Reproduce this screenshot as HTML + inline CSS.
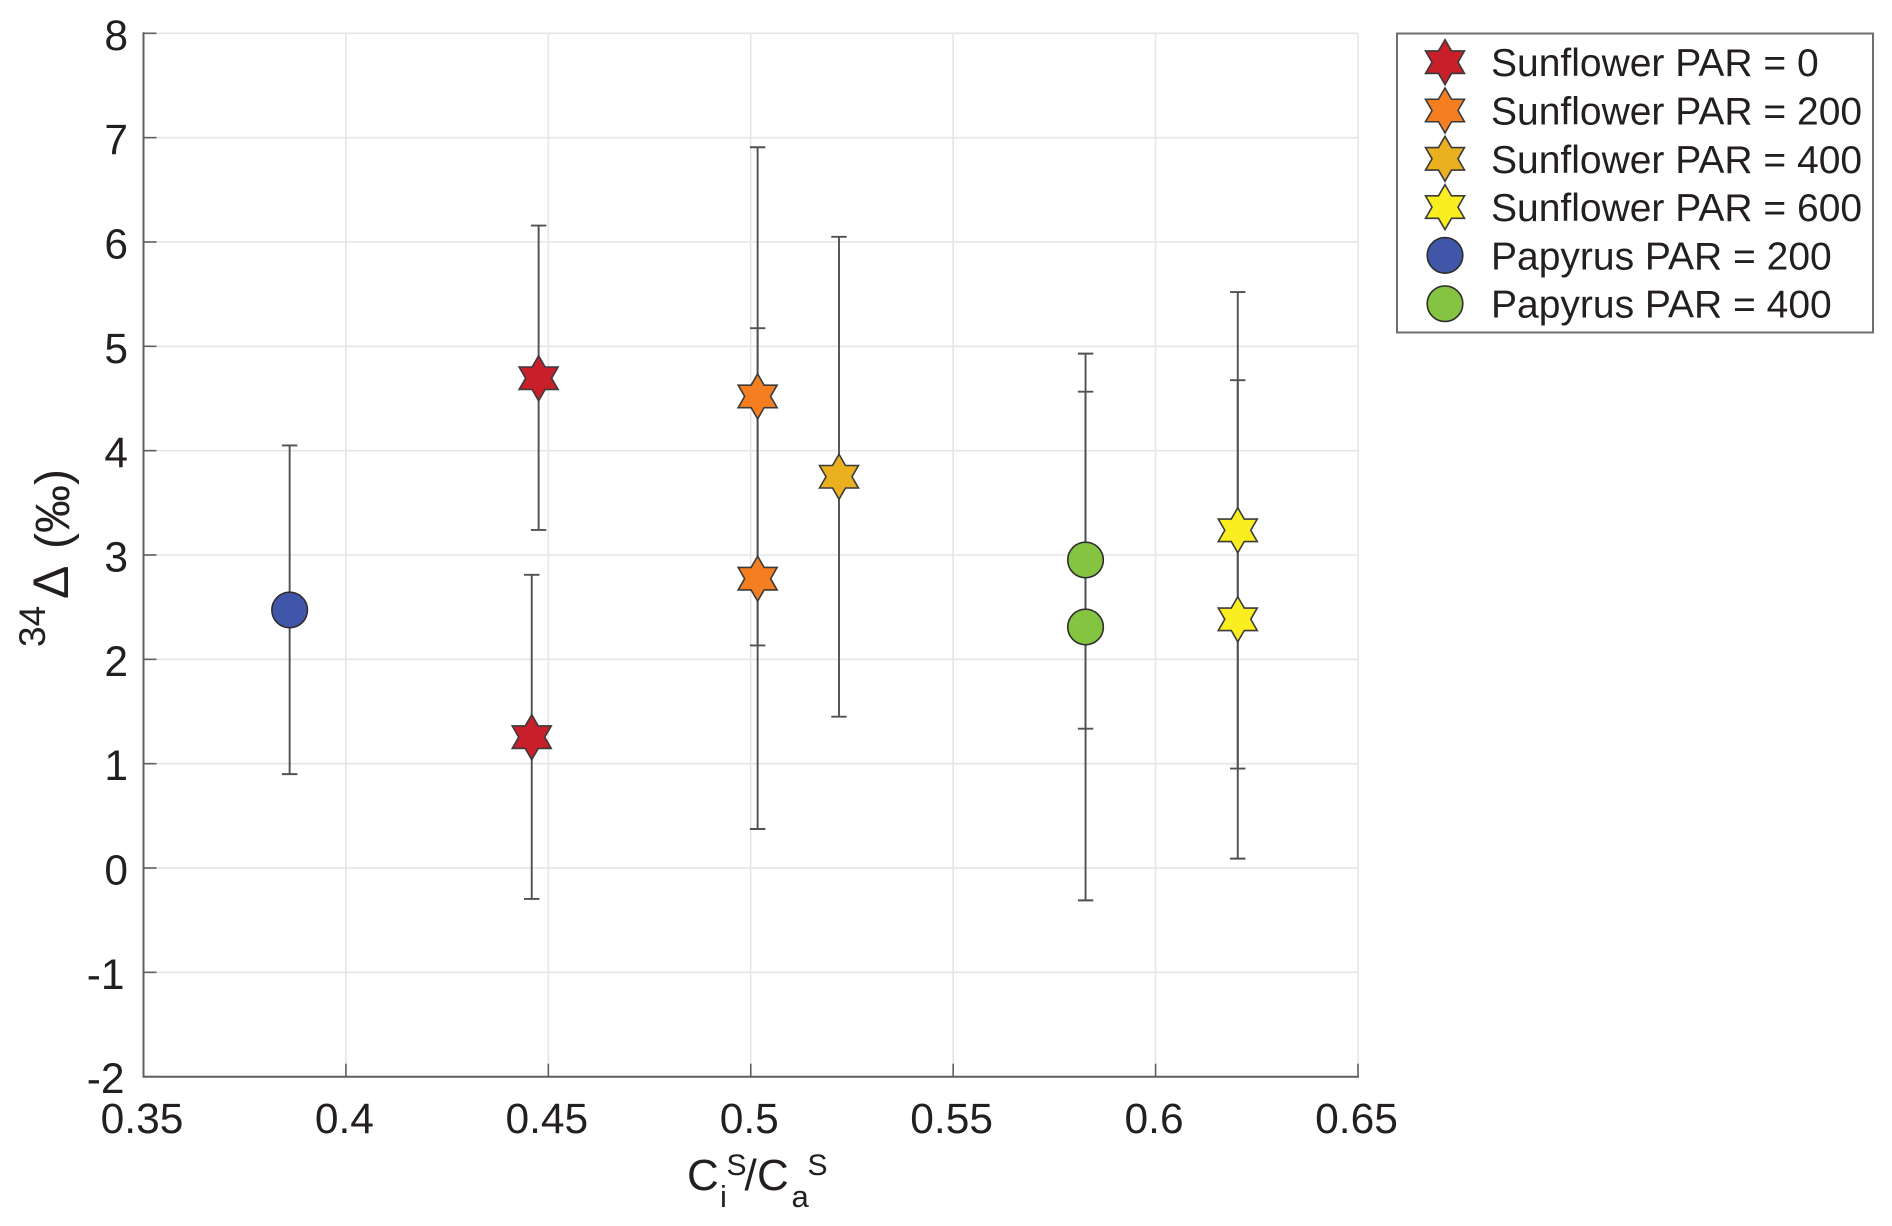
<!DOCTYPE html>
<html lang="en">
<head>
<meta charset="utf-8">
<title>34Δ vs Ci/Ca scatter chart</title>
<style>
  html, body { margin: 0; padding: 0; background: #fff; }
  svg { display: block; }
  text { font-family: "Liberation Sans", sans-serif; fill: #231f20; }
</style>
</head>
<body>
<svg id="chart" xmlns="http://www.w3.org/2000/svg" width="1892" height="1226" viewBox="0 0 1892 1226">
  <rect x="0" y="0" width="1892" height="1226" fill="#ffffff"/>
  <g id="grid"></g>
  <g id="axes"></g>
  <g id="errors"></g>
  <g id="marks"></g>

  <g>
    <text x="687" y="1190" font-size="44">C</text>
    <text x="720" y="1207" font-size="31">i</text>
    <text x="726.5" y="1175" font-size="30">S</text>
    <text x="744.5" y="1190" font-size="44">/</text>
    <text x="757" y="1190" font-size="44">C</text>
    <text x="791.5" y="1207" font-size="31">a</text>
    <text x="807.5" y="1175" font-size="30">S</text>
  </g>
  <g>
    <text transform="translate(45 647) rotate(-90)" font-size="37">34</text>
    <text transform="translate(68 599) rotate(-90)" font-size="50">Δ</text>
    <text transform="translate(69 549) rotate(-90)" font-size="48">(‰)</text>
  </g>

  <g id="legend">
    <rect x="1397" y="33.5" width="476" height="299" fill="#ffffff" stroke="#6e6e6e" stroke-width="2"/>
  </g>
</svg>
<script>
// Chart data
const seriesLabels = ["Sunflower PAR = 0", "Sunflower PAR = 200", "Sunflower PAR = 400", "Sunflower PAR = 600", "Papyrus PAR = 200", "Papyrus PAR = 400"];
const seriesMarkers = ["star", "star", "star", "star", "circle", "circle"];
const seriesColors = ["#c81f2a", "#f57f20", "#eab020", "#fbee20", "#4056a8", "#85c440"];

const pointSeries = [4, 0, 0, 1, 1, 2, 5, 5, 3, 3];
const pointX = [0.3861, 0.4476, 0.4459, 0.5017, 0.5017, 0.5218, 0.5827, 0.5827, 0.6203, 0.6203];
const pointY = [2.473, 4.694, 1.254, 4.52, 2.773, 3.75, 2.952, 2.31, 3.237, 2.384];
const errorLow = [0.9, 3.24, -0.296, 2.133, 0.374, 1.45, 1.335, -0.31, 0.953, 0.09];
const errorHigh = [4.05, 6.157, 2.81, 6.908, 5.174, 6.05, 4.93, 4.565, 5.52, 4.675];

const xTicks = [0.35, 0.4, 0.45, 0.5, 0.55, 0.6, 0.65];
const xTickLabels = ["0.35", "0.4", "0.45", "0.5", "0.55", "0.6", "0.65"];
const yTicks = [-2, -1, 0, 1, 2, 3, 4, 5, 6, 7, 8];
const yTickLabels = ["-2", "-1", "0", "1", "2", "3", "4", "5", "6", "7", "8"];

// Axis functions
const plotLeft = 143.5, plotRight = 1358, plotTop = 33.3, plotBottom = 1076.7;
const xMin = 0.35, xMax = 0.65, yMin = -2, yMax = 8;
function xScale(v) { return plotLeft + (v - xMin) / (xMax - xMin) * (plotRight - plotLeft); }
function yScale(v) { return plotBottom - (v - yMin) / (yMax - yMin) * (plotBottom - plotTop); }

const NS = "http://www.w3.org/2000/svg";
function make(tag, parent, props) {
  const el = document.createElementNS(NS, tag);
  for (const k in props) el.setAttribute(k, props[k]);
  parent.appendChild(el);
  return el;
}
function starPoints(cx, cy, R) {
  const r = R / Math.sqrt(3), pts = [];
  for (let i = 0; i < 12; i++) {
    const a = -Math.PI / 2 + i * Math.PI / 6, d = i % 2 ? r : R;
    pts.push((cx + d * Math.cos(a)).toFixed(2) + "," + (cy + d * Math.sin(a)).toFixed(2));
  }
  return pts.join(" ");
}
function drawMarker(parent, kind, cx, cy, color) {
  let el;
  if (kind === "star") {
    el = make("polygon", parent, { points: starPoints(cx, cy, 22.5), fill: color, stroke: "#3a3a3a", "stroke-width": 1.6, "stroke-linejoin": "miter" });
  } else {
    el = make("circle", parent, { cx: cx, cy: cy, r: 17.8, fill: color, stroke: "#2e2e2e", "stroke-width": 1.6 });
  }
  return el;
}

const gridG = document.getElementById("grid");
const axesG = document.getElementById("axes");
const errorsG = document.getElementById("errors");
const marksG = document.getElementById("marks");
const legendG = document.getElementById("legend");

// Grid lines
xTicks.forEach(function (t) {
  if (t === xMin) return;
  const line = make("line", gridG, { x1: xScale(t), x2: xScale(t), y1: plotTop, y2: plotBottom, stroke: "#e6e6e6", "stroke-width": 1.6 });
  
  
});
yTicks.forEach(function (t) {
  if (t === yMin) return;
  const line = make("line", gridG, { x1: plotLeft, x2: plotRight, y1: yScale(t), y2: yScale(t), stroke: "#e6e6e6", "stroke-width": 1.6 });
  
  
});

// Axis lines
const xAxisLine = make("line", axesG, { x1: plotLeft - 1, x2: plotRight + 1, y1: plotBottom, y2: plotBottom, stroke: "#5f5f5f", "stroke-width": 2 });


const yAxisLine = make("line", axesG, { x1: plotLeft, x2: plotLeft, y1: plotTop - 1, y2: plotBottom, stroke: "#5f5f5f", "stroke-width": 2 });



// Ticks and tick labels
xTicks.forEach(function (t, i) {
  const tick = make("line", axesG, { x1: xScale(t), x2: xScale(t), y1: plotBottom, y2: plotBottom - 13, stroke: "#5f5f5f", "stroke-width": 1.6 });
  
  
  const label = make("text", axesG, { x: xScale(t) - 1.5, y: 1133, "font-size": 42.5, "text-anchor": "middle" });
  label.textContent = xTickLabels[i];
  
  
});
yTicks.forEach(function (t, i) {
  const tick = make("line", axesG, { x1: plotLeft, x2: plotLeft + 13, y1: yScale(t), y2: yScale(t), stroke: "#5f5f5f", "stroke-width": 1.6 });
  
  
  const label = make("text", axesG, { x: t < 0 ? 124.5 : 128, y: yScale(t) + 16.5, "font-size": 42.5, "text-anchor": "end" });
  label.textContent = yTickLabels[i];
  
  
});

// Error bars and markers
const capHalf = 7.7;
pointX.forEach(function (v, i) {
  const px = xScale(v);
  const top = yScale(errorHigh[i]), bottom = yScale(errorLow[i]);
  const bar = make("path", errorsG, {
    d: "M" + px + " " + top + "V" + bottom + "M" + (px - capHalf) + " " + top + "H" + (px + capHalf) + "M" + (px - capHalf) + " " + bottom + "H" + (px + capHalf),
    fill: "none", stroke: "#505050", "stroke-width": 1.9
  });
  
  
});
pointX.forEach(function (v, i) {
  const s = pointSeries[i];
  const mark = drawMarker(marksG, seriesMarkers[s], xScale(v), yScale(pointY[i]), seriesColors[s]);
  
  
});

// Legend
seriesLabels.forEach(function (name, i) {
  const cy = 62.2 + i * 48.3;
  const icon = drawMarker(legendG, seriesMarkers[i], 1445, cy, seriesColors[i]);
  
  
  const text = make("text", legendG, { x: 1491, y: cy + 14, "font-size": 39 });
  text.textContent = name;
  
  
});
</script>
</body>
</html>
